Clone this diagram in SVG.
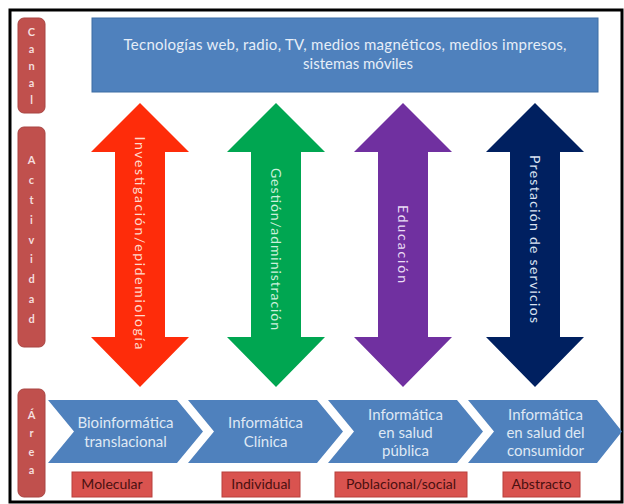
<svg xmlns="http://www.w3.org/2000/svg" width="624" height="504" viewBox="0 0 624 504">
<style>
  .frame{fill:#ffffff;stroke:#000000;stroke-width:3}
  .pill{fill:#c0504d;stroke:#a84542;stroke-width:1}
  .pilltxt{font-family:Lato,"Open Sans",sans-serif;font-size:11px;font-weight:bold;fill:#f4dede;text-anchor:middle}
  .banner{fill:#4f81bd;stroke:#3d6ca3;stroke-width:1}
  .bannertxt{font-family:Lato,"Open Sans",sans-serif;font-size:15px;fill:#e6eef8;text-anchor:middle}
  .arrtxt{font-family:Lato,"Open Sans",sans-serif;font-size:14px;text-anchor:middle;dominant-baseline:central}
  .chev{fill:#4f81bd}
  .chevtxt{font-family:Lato,"Open Sans",sans-serif;font-size:15px;fill:#dfe8f4;text-anchor:middle}
  .lab{fill:#d9534f;stroke:#b8403c;stroke-width:1}
  .labtxt{font-family:Lato,"Open Sans",sans-serif;font-size:14px;fill:#4a1010;text-anchor:middle}
</style>
<rect class="frame" x="10" y="10" width="612" height="492"/>

<g id="label-canal">
  <rect class="pill" x="18" y="18" width="27" height="95" rx="6"/>
  <text class="pilltxt"><tspan x="31.5" y="36">C</tspan><tspan x="31.5" y="53">a</tspan><tspan x="31.5" y="70">n</tspan><tspan x="31.5" y="87">a</tspan><tspan x="31.5" y="104">l</tspan></text>
</g>
<g id="label-actividad">
  <rect class="pill" x="18" y="127" width="27" height="220" rx="6"/>
  <text class="pilltxt"><tspan x="31.5" y="164">A</tspan><tspan x="31.5" y="184">c</tspan><tspan x="31.5" y="204">t</tspan><tspan x="31.5" y="224">i</tspan><tspan x="31.5" y="244">v</tspan><tspan x="31.5" y="263">i</tspan><tspan x="31.5" y="283">d</tspan><tspan x="31.5" y="303">a</tspan><tspan x="31.5" y="323">d</tspan></text>
</g>
<g id="label-area">
  <rect class="pill" x="18" y="389" width="27" height="108" rx="6"/>
  <text class="pilltxt"><tspan x="31.5" y="419">Á</tspan><tspan x="31.5" y="437">r</tspan><tspan x="31.5" y="456">e</tspan><tspan x="31.5" y="474">a</tspan></text>
</g>

<g id="canal">
  <rect class="banner" x="92" y="18" width="506" height="74"/>
  <text class="bannertxt" x="345" y="50" textLength="443">Tecnologías web, radio, TV, medios magnéticos, medios impresos,</text>
  <text class="bannertxt" x="358" y="69">sistemas móviles</text>
</g>

<g id="act-investigacion">
  <path fill="#fe2c0a" d="M140,103 L189,152 L165,152 L165,337 L189,337 L140,387 L91,337 L115,337 L115,152 L91,152 Z"/>
  <text class="arrtxt" fill="#ffd9cc" transform="translate(140,243) rotate(90)" x="0" y="0" textLength="213">Investigación/epidemiología</text>
</g>
<g id="act-gestion">
  <path fill="#00a651" d="M276,103 L325,152 L301,152 L301,337 L325,337 L276,387 L227,337 L251,337 L251,152 L227,152 Z"/>
  <text class="arrtxt" fill="#ccf0dc" transform="translate(276,249) rotate(90)" x="0" y="0" textLength="162">Gestión/administración</text>
</g>
<g id="act-educacion">
  <path fill="#7030a0" d="M403,103 L452,152 L428,152 L428,337 L452,337 L403,387 L354,337 L378,337 L378,152 L354,152 Z"/>
  <text class="arrtxt" fill="#eadcf5" transform="translate(403,244) rotate(90)" x="0" y="0" textLength="78">Educación</text>
</g>
<g id="act-prestacion">
  <path fill="#002060" d="M535,103 L584,152 L560,152 L560,337 L584,337 L535,387 L486,337 L510,337 L510,152 L486,152 Z"/>
  <text class="arrtxt" fill="#dbe3f2" transform="translate(535,239) rotate(90)" x="0" y="0" textLength="168">Prestación de servicios</text>
</g>

<g id="area-bioinformatica">
  <path class="chev" d="M48,400 L177,400 L203,431.5 L177,463 L48,463 L74,431.5 Z"/>
  <text class="chevtxt"><tspan x="125.5" y="428">Bioinformática</tspan><tspan x="125.5" y="447">translacional</tspan></text>
</g>
<g id="area-clinica">
  <path class="chev" d="M188,400 L317,400 L343,431.5 L317,463 L188,463 L214,431.5 Z"/>
  <text class="chevtxt"><tspan x="265.5" y="428">Informática</tspan><tspan x="265.5" y="447">Clínica</tspan></text>
</g>
<g id="area-publica">
  <path class="chev" d="M328,400 L457,400 L483,431.5 L457,463 L328,463 L354,431.5 Z"/>
  <text class="chevtxt"><tspan x="405.5" y="420">Informática</tspan><tspan x="405.5" y="438">en salud</tspan><tspan x="405.5" y="456">pública</tspan></text>
</g>
<g id="area-consumidor">
  <path class="chev" d="M468,400 L597,400 L622,431.5 L597,463 L468,463 L494,431.5 Z"/>
  <text class="chevtxt"><tspan x="545.5" y="420">Informática</tspan><tspan x="545.5" y="438">en salud del</tspan><tspan x="545.5" y="456">consumidor</tspan></text>
</g>

<g id="nivel-molecular">
  <rect class="lab" x="72" y="472" width="80" height="25"/>
  <text class="labtxt" x="112" y="489">Molecular</text>
</g>
<g id="nivel-individual">
  <rect class="lab" x="222" y="472" width="78" height="25"/>
  <text class="labtxt" x="261" y="489">Individual</text>
</g>
<g id="nivel-poblacional">
  <rect class="lab" x="335" y="472" width="132" height="25"/>
  <text class="labtxt" x="401" y="489">Poblacional/social</text>
</g>
<g id="nivel-abstracto">
  <rect class="lab" x="503" y="472" width="77" height="25"/>
  <text class="labtxt" x="541.5" y="489">Abstracto</text>
</g>
<g id="connectors"></g>
</svg>
